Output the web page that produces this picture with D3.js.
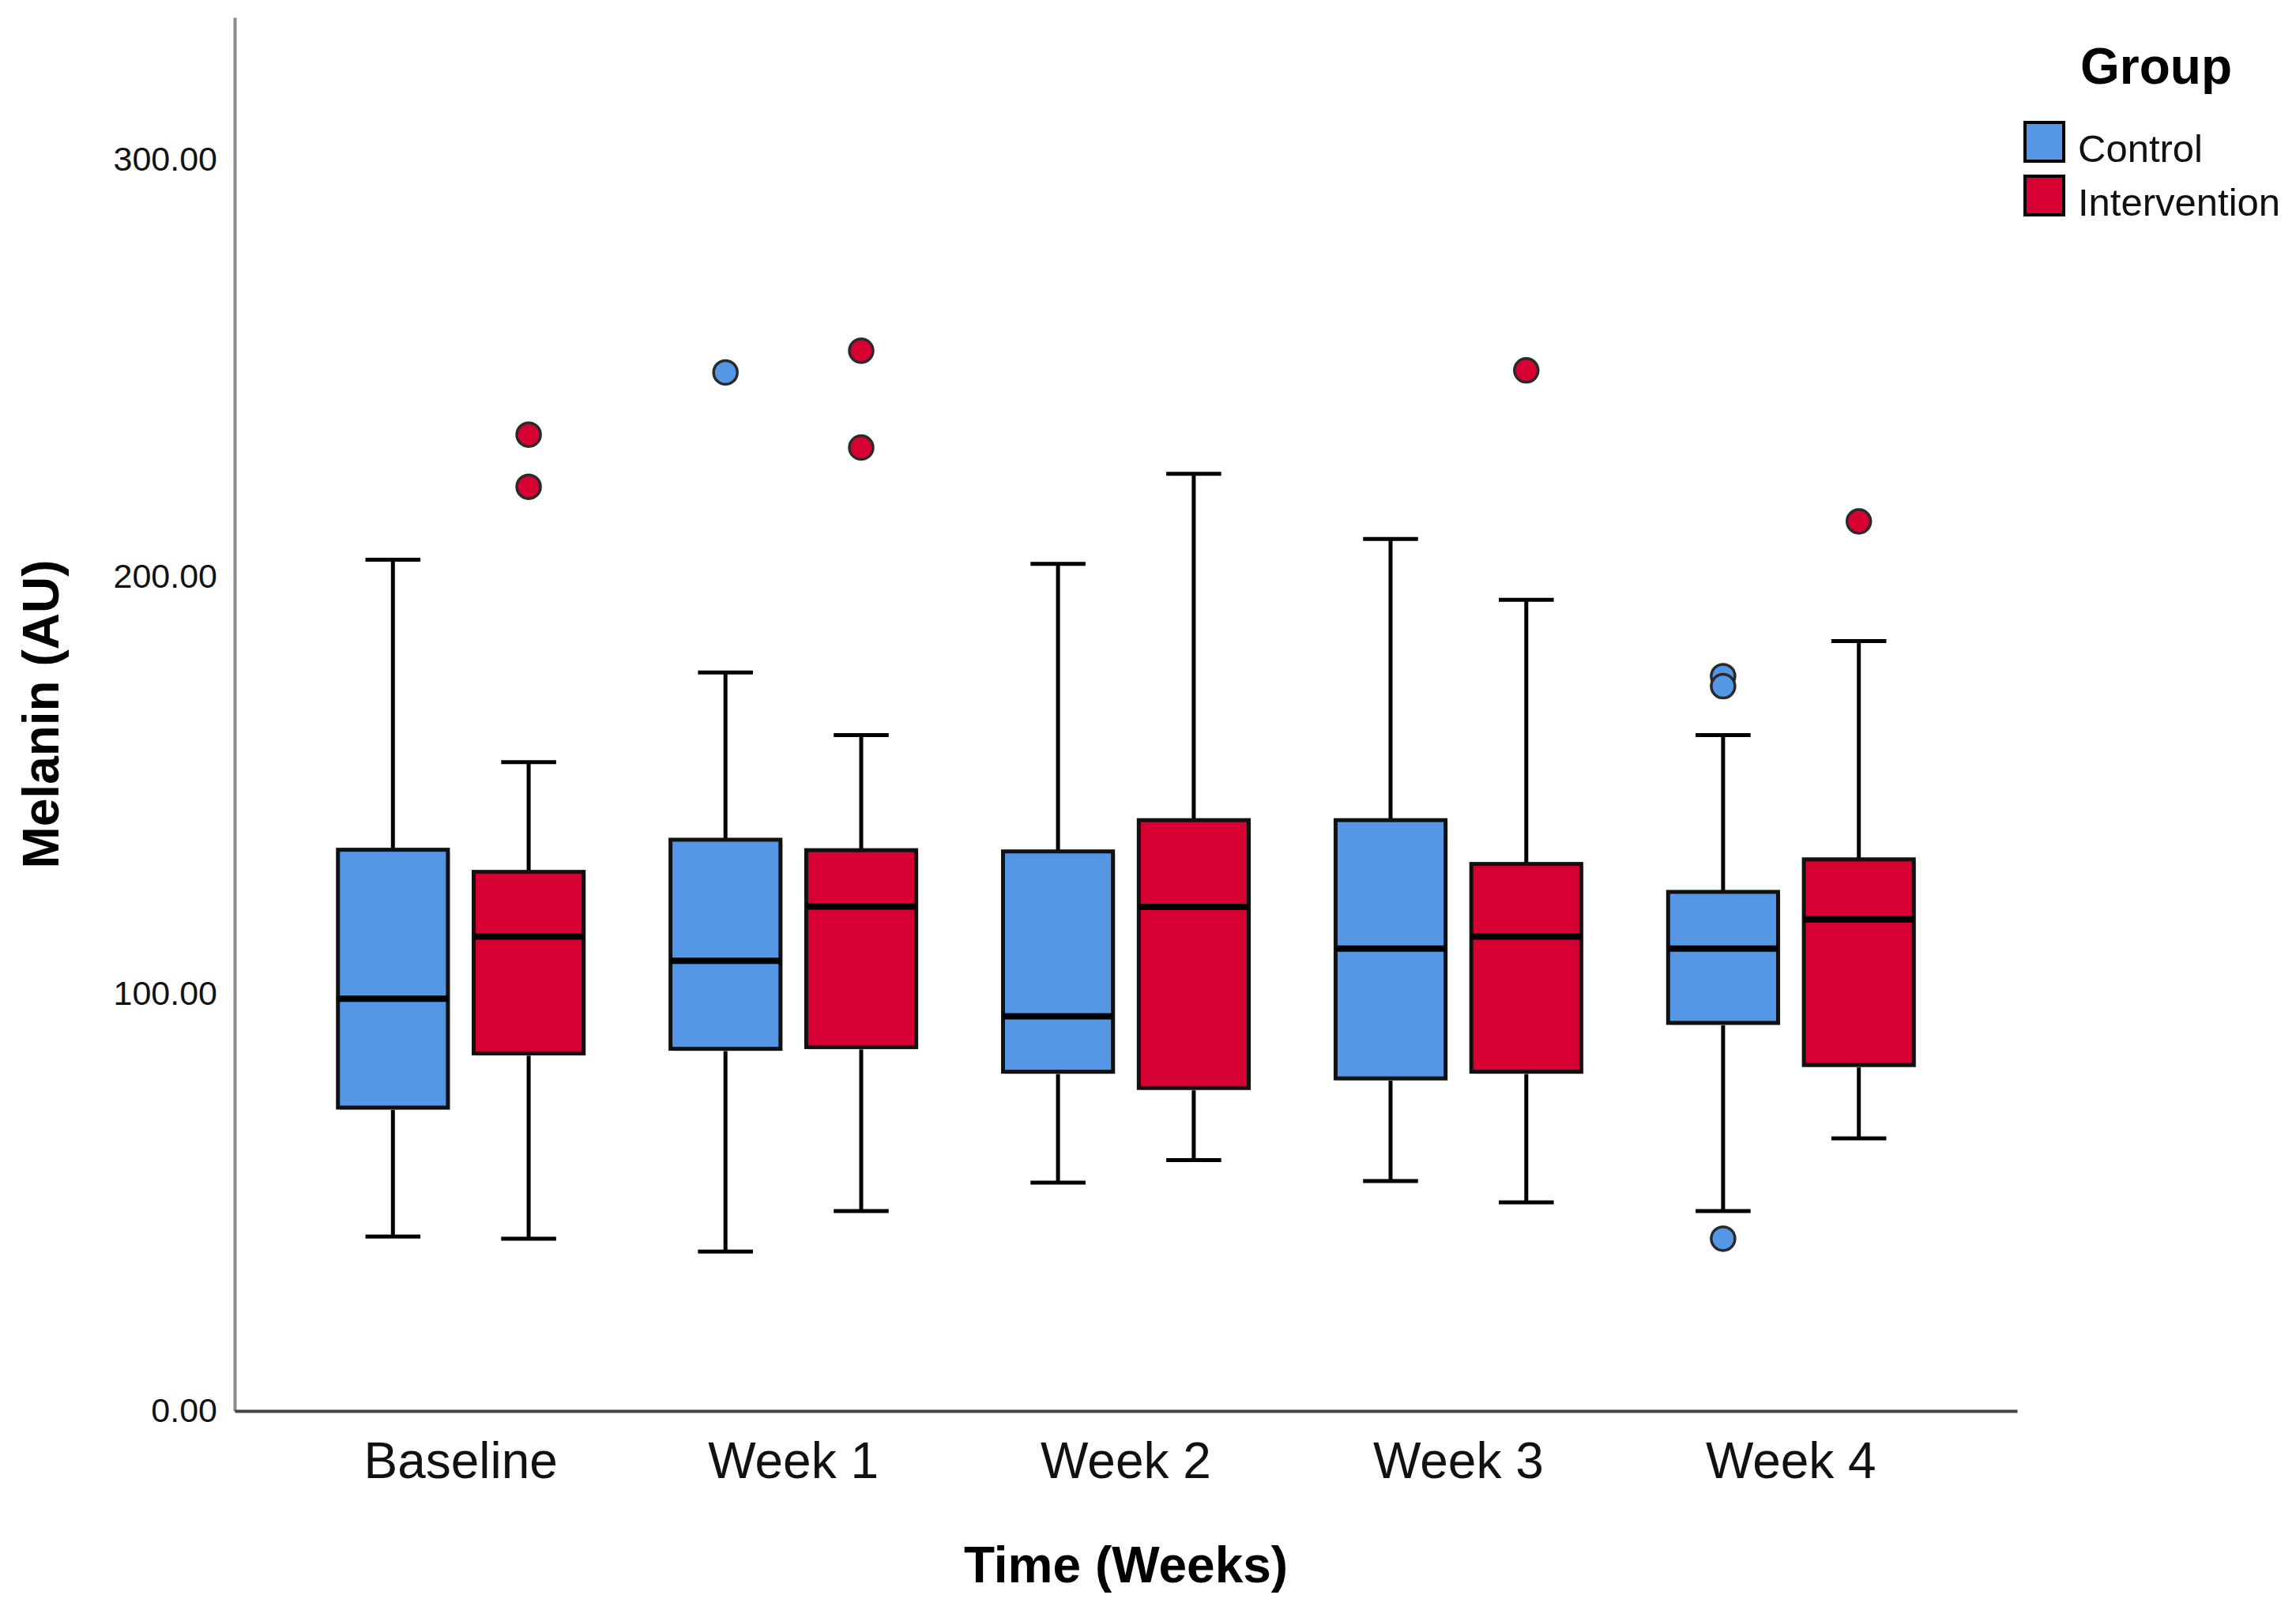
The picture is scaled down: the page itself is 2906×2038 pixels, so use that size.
<!DOCTYPE html>
<html>
<head>
<meta charset="utf-8">
<script src="https://cdn.jsdelivr.net/npm/d3@7"></script>
<style>
  body { margin: 0; background: #fff; }
  svg { display: block; font-family: "Liberation Sans", Arial, sans-serif; }
</style>
</head>
<body>
<svg id="chart" width="2906" height="2038"></svg>
<script>
// ---------- data ----------
const times = ["Baseline", "Week 1", "Week 2", "Week 3", "Week 4"];
const groups = ["Control", "Intervention"];
const groupColors = ["#5596e5", "#d70032"];

// per time point: [lower whisker, Q1, median, Q3, upper whisker]
const controlStats = [
  [41.8, 72.7, 98.8, 134.5, 204.0],
  [38.2, 86.8, 107.9, 136.9, 177.0],
  [54.7, 81.3, 94.6, 134.1, 203.0],
  [55.1, 79.7, 110.8, 141.6, 209.0],
  [47.9, 93.0, 110.8, 124.4, 162.0]
];
const interventionStats = [
  [41.3, 85.7, 113.7, 129.2, 155.5],
  [47.9, 87.2, 120.9, 134.4, 162.0],
  [60.1, 77.4, 120.8, 141.6, 224.6],
  [50.0, 81.3, 113.7, 131.1, 194.4],
  [65.3, 82.9, 117.8, 132.2, 184.5]
];
const controlOutliers = [[], [248.9], [], [], [176.1, 173.7, 41.3]];
const interventionOutliers = [[234.0, 221.5], [254.1, 230.9], [], [249.4], [213.2]];

const yTicks = [0, 100, 200, 300];

// ---------- layout ----------
const svg = d3.select("#chart");
const plotL = 297, plotR = 2553, plotB = 1786, plotT = 22;

const x = d3.scaleBand().domain(times).range([plotL, plotR])
  .paddingInner(0).paddingOuter(0.18);
const xg = d3.scaleBand().domain(groups).range([0, x.bandwidth()])
  .paddingInner(0.19).paddingOuter(0.32);
const y = d3.scaleLinear().domain([0, 334]).range([plotB, plotT]);
const color = d3.scaleOrdinal().domain(groups).range(groupColors);

const statsByGroup = { Control: controlStats, Intervention: interventionStats };
const outByGroup = { Control: controlOutliers, Intervention: interventionOutliers };

// axes
const yAxis = svg.append("g")
  .attr("transform", `translate(${plotL},0)`)
  .call(d3.axisLeft(y).tickValues(yTicks).tickFormat(d3.format(".2f"))
    .tickSize(0).tickPadding(22));
yAxis.select(".domain").attr("stroke", "#8a8a8a").attr("stroke-width", 4);
yAxis.selectAll("text").attr("font-size", 43).attr("fill", "#111");

const xAxis = svg.append("g")
  .attr("transform", `translate(0,${plotB})`)
  .call(d3.axisBottom(x).tickSize(0).tickPadding(40));
xAxis.select(".domain").attr("stroke", "#444").attr("stroke-width", 4);
xAxis.selectAll("text").attr("font-size", 64).attr("fill", "#111");

// boxes
const bw = xg.bandwidth();
const capW = bw * 0.5;

times.forEach((t, i) => {
  groups.forEach(gname => {
    const s = statsByGroup[gname][i];
    const cx = x(t) + xg(gname) + bw / 2;
    const g = svg.append("g").attr("class", "box");

    // whisker
    g.append("line")
      .attr("x1", cx).attr("x2", cx)
      .attr("y1", y(s[0])).attr("y2", y(s[4]))
      .attr("stroke", "#000").attr("stroke-width", 5);
    [s[0], s[4]].forEach(v => {
      g.append("line")
        .attr("x1", cx - capW / 2).attr("x2", cx + capW / 2)
        .attr("y1", y(v)).attr("y2", y(v))
        .attr("stroke", "#000").attr("stroke-width", 5);
    });

    // shadow + box
    g.append("rect")
      .attr("x", cx - bw / 2 + 3).attr("y", y(s[3]) + 3)
      .attr("width", bw).attr("height", y(s[1]) - y(s[3]))
      .attr("fill", "#d4d4d4");
    g.append("rect")
      .attr("x", cx - bw / 2).attr("y", y(s[3]))
      .attr("width", bw).attr("height", y(s[1]) - y(s[3]))
      .attr("fill", color(gname))
      .attr("stroke", "#111").attr("stroke-width", 5);

    // median
    g.append("line")
      .attr("x1", cx - bw / 2).attr("x2", cx + bw / 2)
      .attr("y1", y(s[2])).attr("y2", y(s[2]))
      .attr("stroke", "#000").attr("stroke-width", 8);

    // outliers
    outByGroup[gname][i].forEach(v => {
      g.append("circle")
        .attr("cx", cx).attr("cy", y(v)).attr("r", 15)
        .attr("fill", color(gname))
        .attr("stroke", "#2a2a2a").attr("stroke-width", 3.5);
    });
  });
});

// axis titles
svg.append("text")
  .attr("x", (plotL + plotR) / 2).attr("y", 2003)
  .attr("text-anchor", "middle")
  .attr("font-size", 64).attr("font-weight", "bold").attr("fill", "#000")
  .text("Time (Weeks)");

svg.append("text")
  .attr("transform", `translate(74,${(plotT + plotB) / 2}) rotate(-90)`)
  .attr("text-anchor", "middle")
  .attr("font-size", 64).attr("font-weight", "bold").attr("fill", "#000")
  .text("Melanin (AU)");

// legend
const legend = svg.append("g");
legend.append("text")
  .attr("x", 2729).attr("y", 106)
  .attr("text-anchor", "middle")
  .attr("font-size", 64).attr("font-weight", "bold").attr("fill", "#000")
  .text("Group");

groups.forEach((gname, i) => {
  const ly = 155 + i * 68;
  legend.append("rect")
    .attr("x", 2563).attr("y", ly)
    .attr("width", 49).attr("height", 49)
    .attr("fill", color(gname))
    .attr("stroke", "#000").attr("stroke-width", 4);
  legend.append("text")
    .attr("x", 2630).attr("y", ly + 50)
    .attr("font-size", 49).attr("fill", "#111")
    .text(gname);
});
</script>
</body>
</html>
